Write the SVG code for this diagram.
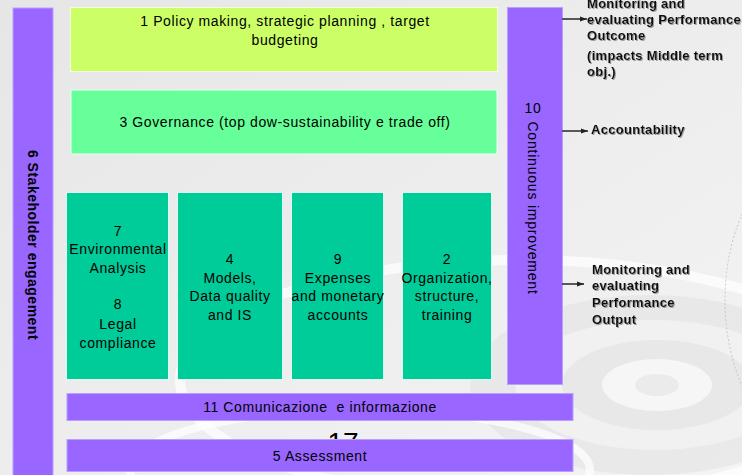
<svg xmlns="http://www.w3.org/2000/svg" width="742" height="475" viewBox="0 0 742 475">
<defs>
<linearGradient id="bg" x1="0" y1="0" x2="1" y2="1">
<stop offset="0" stop-color="#e6e6e6"/>
<stop offset="1" stop-color="#f4f4f4"/>
</linearGradient>
<filter id="sh" x="-10%" y="-20%" width="130%" height="160%">
<feDropShadow dx="1" dy="1" stdDeviation="0.3" flood-color="#888" flood-opacity="0.8"/>
</filter>
<clipPath id="clip17"><rect x="300" y="420" width="90" height="19"/></clipPath>
<marker id="ah" markerWidth="8" markerHeight="8" refX="7" refY="4" orient="auto" markerUnits="userSpaceOnUse">
<path d="M0,1.5 L7,4 L0,6.5 Z" fill="#222"/>
</marker>
<style>
.t{font-family:"Liberation Sans",Arial,sans-serif;font-size:14px;letter-spacing:0.6px;fill:#000;text-anchor:middle}
.r{font-family:"Liberation Sans",Arial,sans-serif;font-size:13px;letter-spacing:0.3px;font-weight:bold;fill:#111;filter:url(#sh)}
.purple{fill:#9966ff;stroke:#b9a0ff;stroke-width:1}
.green{fill:#00cc99;stroke:#d8fff0;stroke-width:1}
.conn{stroke:#333;stroke-width:1.6;fill:none;marker-end:url(#ah)}
.deco{fill:none;stroke:#ffffff;opacity:0.7}
</style>
</defs>
<rect x="0" y="0" width="742" height="475" fill="url(#bg)"/>
<g id="background-decoration">
<ellipse cx="520" cy="380" rx="340" ry="120" class="deco" stroke-width="10"/>
<ellipse cx="650" cy="385" rx="180" ry="90" fill="#e2e2e2" opacity="0.6"/>
<ellipse cx="655" cy="385" rx="140" ry="65" fill="#f3f3f3" opacity="0.8"/>
<ellipse cx="657" cy="385" rx="95" ry="45" fill="#e4e4e4" opacity="0.7"/>
<ellipse cx="657" cy="385" rx="55" ry="26" fill="#f6f6f6"/>
<ellipse cx="657" cy="385" rx="22" ry="11" fill="#ebebeb"/>
<ellipse cx="820" cy="300" rx="95" ry="150" fill="none" stroke="#bbb" stroke-width="0.8" stroke-dasharray="2 2"/>
<ellipse cx="360" cy="470" rx="230" ry="60" class="deco" stroke-width="8"/>
</g>
<text class="t" x="343" y="452" clip-path="url(#clip17)" style="font-size:28px;letter-spacing:0">17</text>
<g id="node-6">
<rect class="purple" x="13" y="8" width="40" height="470"/>
<text class="t" transform="translate(28,245) rotate(90)" style="font-weight:bold;letter-spacing:0.5px">6  Stakeholder engagement</text>
</g>
<g id="node-1">
<rect x="70.5" y="7.5" width="427" height="64" fill="#ccff66" stroke="#f4ffd8" stroke-width="1"/>
<text class="t" x="285" y="26">1 Policy making, strategic planning , target</text>
<text class="t" x="285" y="45">budgeting</text>
</g>
<g id="node-3">
<rect x="71" y="90" width="426" height="64" fill="#66ff99" stroke="#e6fff0" stroke-width="1"/>
<text class="t" x="285" y="127">3 Governance (top dow-sustainability e trade off)</text>
</g>
<g id="node-7-8">
<rect class="green" x="66.5" y="192.5" width="102" height="187"/>
<text class="t" x="118" y="236">7</text>
<text class="t" x="118" y="254">Environmental</text>
<text class="t" x="118" y="273">Analysis</text>
<text class="t" x="118" y="309">8</text>
<text class="t" x="118" y="329">Legal</text>
<text class="t" x="118" y="348">compliance</text>
</g>
<g id="node-4">
<rect class="green" x="177.5" y="192.5" width="105" height="187"/>
<text class="t" x="230" y="264">4</text>
<text class="t" x="230" y="283">Models,</text>
<text class="t" x="230" y="301">Data quality</text>
<text class="t" x="230" y="320">and IS</text>
</g>
<g id="node-9">
<rect class="green" x="291.5" y="192.5" width="92" height="187"/>
<text class="t" x="338" y="264">9</text>
<text class="t" x="338" y="283">Expenses</text>
<text class="t" x="338" y="301">and monetary</text>
<text class="t" x="338" y="320">accounts</text>
</g>
<g id="node-2">
<rect class="green" x="402.5" y="192.5" width="89" height="187"/>
<text class="t" x="447" y="264">2</text>
<text class="t" x="447" y="283">Organization,</text>
<text class="t" x="447" y="301">structure,</text>
<text class="t" x="447" y="320">training</text>
</g>
<g id="node-10">
<rect class="purple" x="507.5" y="7.5" width="55" height="377"/>
<text class="t" x="533" y="113">10</text>
<text class="t" transform="translate(528,208) rotate(90)" style="letter-spacing:0.8px">Continuous improvement</text>
</g>
<g id="node-11">
<rect class="purple" x="67" y="393.5" width="506" height="27"/>
<text class="t" x="320" y="412" xml:space="preserve">11 Comunicazione  e informazione</text>
</g>
<g id="node-5">
<rect class="purple" x="67" y="439.5" width="506" height="32"/>
<text class="t" x="320" y="461">5 Assessment</text>
</g>
<g id="connectors">
<path class="conn" d="M562,19 L587,19"/>
<path class="conn" d="M562,131 L588,131"/>
<path class="conn" d="M562,284 L584,284"/>
</g>
<g id="outputs">
<text class="r" x="587" y="8">Monitoring and</text>
<text class="r" x="587" y="24">evaluating Performance</text>
<text class="r" x="587" y="40">Outcome</text>
<text class="r" x="587" y="60">(impacts Middle term</text>
<text class="r" x="587" y="76">obj.)</text>
<text class="r" x="591" y="134">Accountability</text>
<text class="r" x="592" y="274">Monitoring and</text>
<text class="r" x="592" y="290">evaluating</text>
<text class="r" x="592" y="307">Performance</text>
<text class="r" x="592" y="324">Output</text>
</g>
</svg>
